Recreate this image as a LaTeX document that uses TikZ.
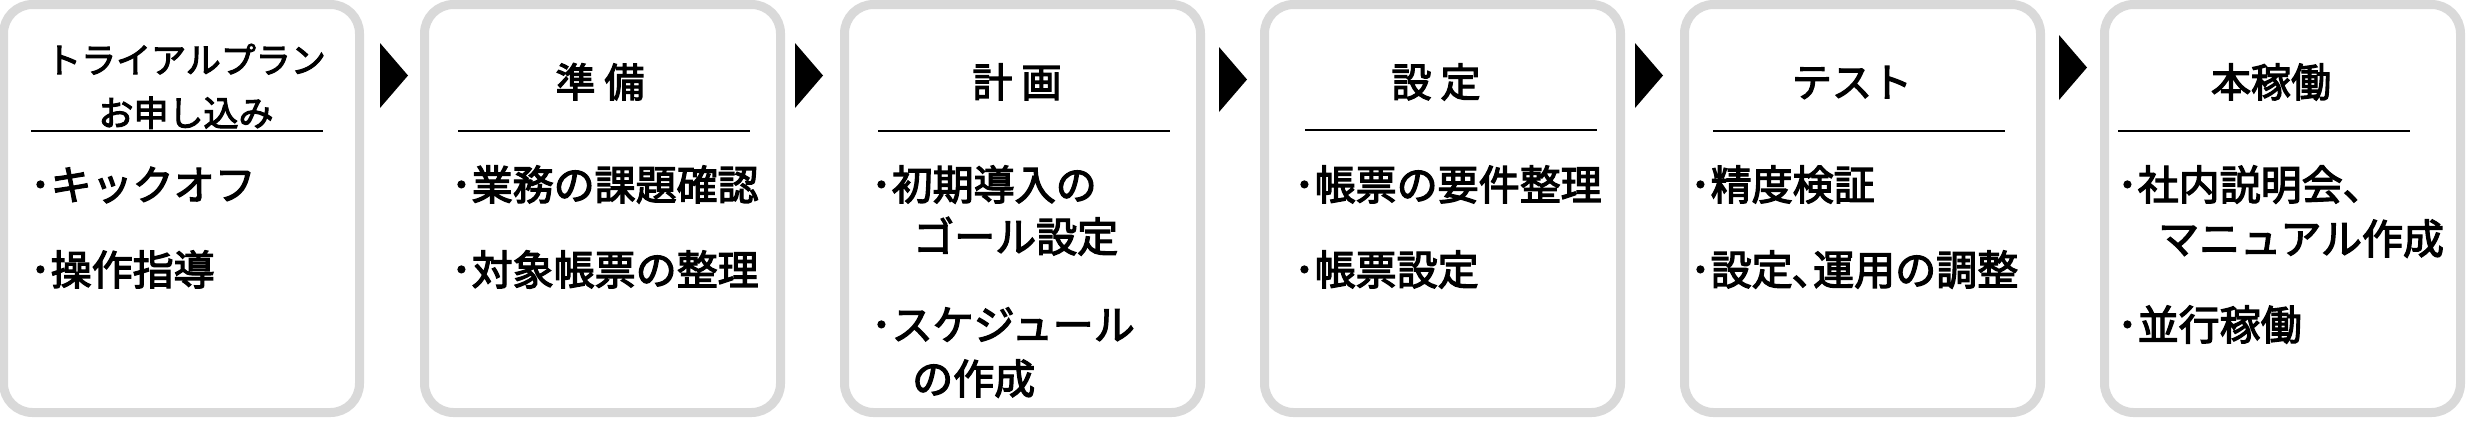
\documentclass[tikz,border=0pt]{standalone}
\usepackage{fontspec}
\setmainfont{Noto Sans CJK JP}[FakeBold=3]
\definecolor{boxgray}{HTML}{D9D9D9}
\tikzset{
  stagebox/.style={draw=boxgray, line width=9pt, rounded corners=29pt, minimum width=356pt, minimum height=408pt, inner sep=0pt, fill=white},
  ttl/.style={anchor=base, inner sep=0pt, font=\fontsize{40pt}{40pt}\selectfont},
  ttlsmall/.style={anchor=base, inner sep=0pt, font=\fontsize{35pt}{35pt}\selectfont},
  itm/.style={anchor=base west, inner sep=0pt, font=\fontsize{41pt}{41pt}\selectfont},
  headrule/.style={line width=2.5pt},
  marker/.style={fill=black}
}
\begin{document}
\begin{tikzpicture}[x=1pt,y=-1pt]
\useasboundingbox (0,0) rectangle (2471,432);
% boxes
\node[stagebox] (s1) at (181.5,208.5) {};
\node[stagebox] (s2) at (602.5,208.5) {};
\node[stagebox] (s3) at (1022.5,208.5) {};
\node[stagebox] (s4) at (1442.5,208.5) {};
\node[stagebox] (s5) at (1862.5,208.5) {};
\node[stagebox] (s6) at (2282.5,208.5) {};
% arrows
\fill[marker] (380,43) -- (408,75.5) -- (380,108) -- cycle;
\fill[marker] (795,43) -- (823,75.5) -- (795,108) -- cycle;
\fill[marker] (1219,47) -- (1247,79.5) -- (1219,112) -- cycle;
\fill[marker] (1635,43) -- (1663,75.5) -- (1635,108) -- cycle;
\fill[marker] (2059,35) -- (2087,67.5) -- (2059,100) -- cycle;
% title rules
\draw[headrule] (31,131) -- (323,131);
\draw[headrule] (458,131) -- (750,131);
\draw[headrule] (878,131) -- (1170,131);
\draw[headrule] (1305,130) -- (1597,130);
\draw[headrule] (1713,131) -- (2005,131);
\draw[headrule] (2118,131) -- (2410,131);
% titles
\node[ttlsmall] (t1a) at (186,73) {トライアルプラン};
\node[ttlsmall] (t1b) at (186,126) {お申し込み};
\node[ttl] (t2) at (600,97) {準 備};
\node[ttl] (t3) at (1017,97) {計 画};
\node[ttl] (t4) at (1436,97) {設 定};
\node[ttl] (t5) at (1852,97) {テスト};
\node[ttl] (t6) at (2271,97) {本稼働};
% items box 1
\node[itm] (i11) at (30,200) {･キックオフ};
\node[itm] (i12) at (30,285) {･操作指導};
% items box 2
\node[itm] (i21) at (451,200) {･業務の課題確認};
\node[itm] (i22) at (451,285) {･対象帳票の整理};
% items box 3
\node[itm] (i31) at (871,200) {･初期導入の};
\node[itm] (i31b) at (913,252) {ゴール設定};
\node[itm] (i32) at (871,340) {･スケジュール};
\node[itm] (i32b) at (912,394) {の作成};
% items box 4
\node[itm] (i41) at (1294,200) {･帳票の要件整理};
\node[itm] (i42) at (1294,285) {･帳票設定};
% items box 5
\node[itm] (i51) at (1690,200) {･精度検証};
\node[itm] (i52) at (1690,285) {･設定､運用の調整};
% items box 6
\node[itm] (i61) at (2117,200) {･社内説明会、};
\node[itm] (i61b) at (2158,254) {マニュアル作成};
\node[itm] (i62) at (2117,340) {･並行稼働};
\end{tikzpicture}
\end{document}
